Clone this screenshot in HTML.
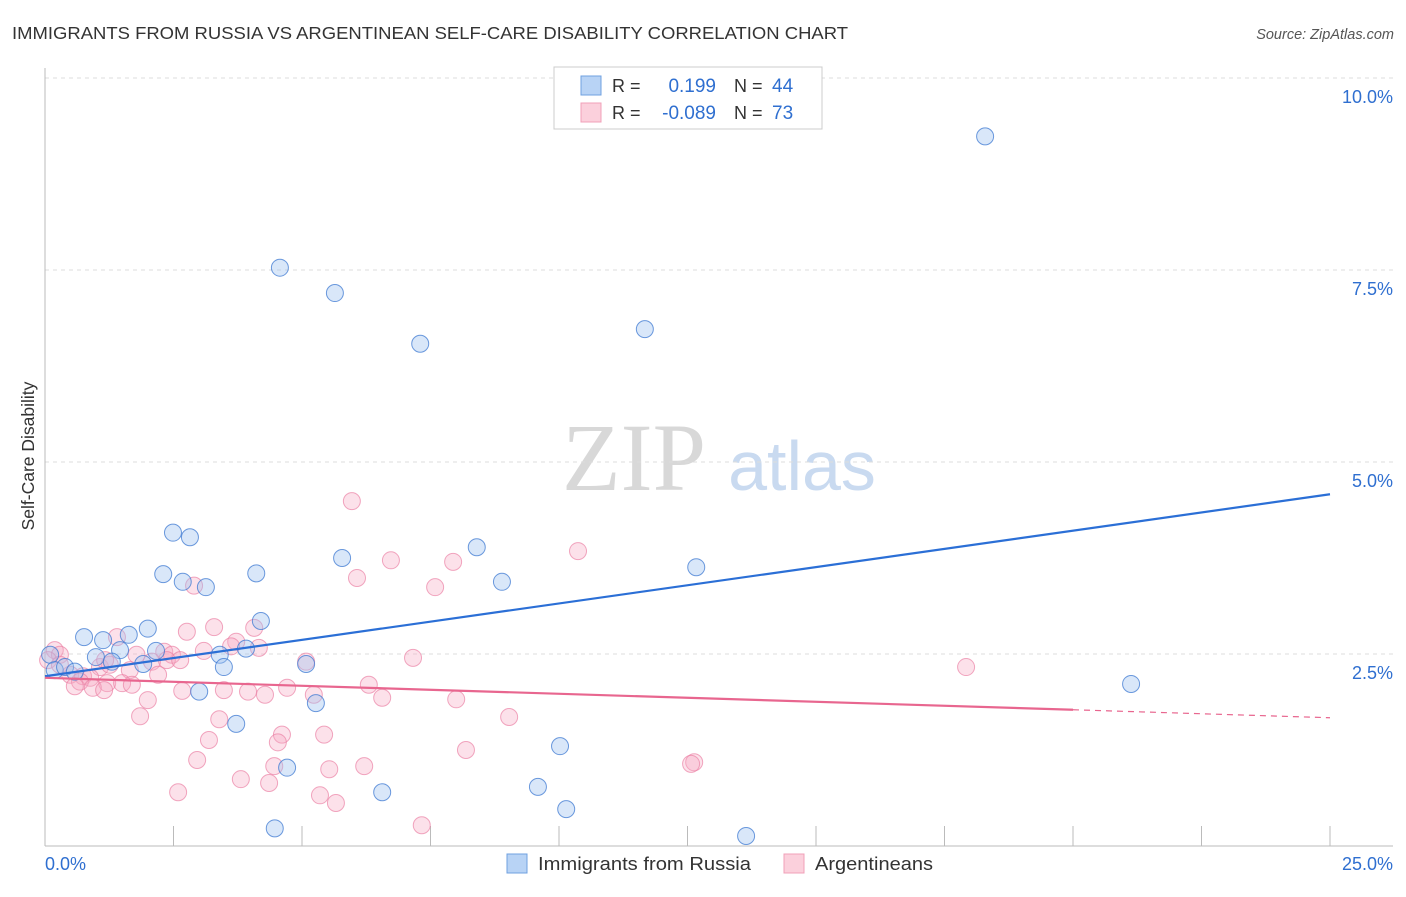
<!DOCTYPE html>
<html><head><meta charset="utf-8"><style>
body{margin:0;background:#fff;font-family:"Liberation Sans",sans-serif;}
svg text{font-family:"Liberation Sans",sans-serif;}
</style></head><body>
<svg id="chart" width="1406" height="892" viewBox="0 0 1406 892" xmlns="http://www.w3.org/2000/svg">
<text x="12" y="39" font-size="17.5" fill="#333" textLength="836" lengthAdjust="spacingAndGlyphs">IMMIGRANTS FROM RUSSIA VS ARGENTINEAN SELF-CARE DISABILITY CORRELATION CHART</text>
<text x="1394" y="39" font-size="14.5" fill="#555" font-style="italic" text-anchor="end">Source: ZipAtlas.com</text>
<g>
<text x="634" y="490" font-size="96" fill="#d8d8d8" font-family="Liberation Serif" text-anchor="middle" style="font-family:'Liberation Serif',serif">ZIP</text>
<text x="802" y="490" font-size="70" fill="#c9daf0" text-anchor="middle">atlas</text>
</g>
<g id="grid"></g>
<g id="axes"></g>
<g id="pts-pink"></g>
<g id="pts-blue"></g>
<g id="lines"></g>
<text x="34" y="456" font-size="17.5" fill="#333" text-anchor="middle" transform="rotate(-90 34 456)">Self-Care Disability</text>
<g>
<rect x="554" y="67" width="268" height="62" fill="#fff" stroke="#ccc"/>
<rect x="581" y="76" width="20" height="19" fill="#b8d3f5" stroke="#6fa0e0"/>
<rect x="581" y="103" width="20" height="19" fill="#fbd0dc" stroke="#f0a0b8"/>
<text x="612" y="92" font-size="18" fill="#333">R =</text>
<text x="716" y="92" font-size="19" fill="#2f6fd0" text-anchor="end">0.199</text>
<text x="734" y="92" font-size="18" fill="#333">N =</text>
<text x="772" y="92" font-size="19" fill="#2f6fd0">44</text>
<text x="612" y="119" font-size="18" fill="#333">R =</text>
<text x="716" y="119" font-size="19" fill="#2f6fd0" text-anchor="end">-0.089</text>
<text x="734" y="119" font-size="18" fill="#333">N =</text>
<text x="772" y="119" font-size="19" fill="#2f6fd0">73</text>
</g>
<g>
<rect x="507" y="854" width="20" height="19" fill="#b8d3f5" stroke="#6fa0e0"/>
<text x="538" y="870" font-size="18.5" fill="#333" textLength="213" lengthAdjust="spacingAndGlyphs">Immigrants from Russia</text>
<rect x="784" y="854" width="20" height="19" fill="#fbd0dc" stroke="#f0a0b8"/>
<text x="815" y="870" font-size="18.5" fill="#333" textLength="118" lengthAdjust="spacingAndGlyphs">Argentineans</text>
</g>
</svg>
<script>
const blueX=[18.29,4.57,5.64,7.30,11.67,2.49,2.82,2.30,2.68,3.13,4.11,5.78,8.40,8.89,12.67,4.20,2.00,1.63,0.76,1.13,1.46,2.16,3.91,0.99,3.40,1.30,1.91,5.08,3.48,0.10,0.19,0.39,0.58,3.00,5.27,21.13,3.72,4.71,10.02,9.59,6.56,10.14,4.47,13.64];
const blueY=[9.24,7.53,7.20,6.54,6.73,4.08,4.02,3.54,3.44,3.37,3.55,3.75,3.89,3.44,3.63,2.93,2.83,2.75,2.72,2.68,2.55,2.54,2.57,2.46,2.49,2.40,2.37,2.37,2.33,2.49,2.29,2.33,2.27,2.01,1.86,2.11,1.59,1.02,1.30,0.77,0.70,0.48,0.23,0.13];
const pinkX=[5.97,10.37,6.73,7.94,6.07,7.59,2.90,4.07,3.29,2.76,1.40,3.72,4.16,3.62,3.09,2.32,2.47,1.78,0.19,0.29,0.06,2.37,2.08,5.08,7.16,17.92,1.07,1.26,1.65,0.49,0.74,0.88,2.20,0.68,1.21,1.50,1.69,0.93,1.15,2.67,3.48,3.95,4.28,4.71,5.23,6.30,6.56,8.00,2.00,9.03,1.85,3.39,5.43,4.61,4.53,3.19,8.19,2.96,12.63,12.57,4.46,5.53,6.21,3.81,4.36,2.59,5.35,5.66,7.33,1.17,0.29,2.63,0.58];
const pinkY=[4.49,3.84,3.72,3.70,3.49,3.37,3.39,2.84,2.85,2.79,2.72,2.66,2.58,2.60,2.54,2.53,2.49,2.49,2.55,2.49,2.42,2.42,2.40,2.40,2.45,2.33,2.33,2.36,2.29,2.23,2.21,2.19,2.23,2.14,2.12,2.12,2.10,2.06,2.03,2.02,2.03,2.01,1.97,2.06,1.97,2.10,1.93,1.91,1.90,1.68,1.69,1.65,1.45,1.45,1.35,1.38,1.25,1.12,1.09,1.07,1.04,1.00,1.04,0.87,0.82,0.70,0.66,0.56,0.27,2.42,2.36,2.42,2.08];
const blueTrend=[2.21,4.58];
const pinkTrend=[2.19,1.67];
const yTicks=[2.5,5.0,7.5,10.0];
const yTickLabels=["2.5%","5.0%","7.5%","10.0%"];
const xTicks=[2.5,5,7.5,10,12.5,15,17.5,20,22.5,25];
const NS="http://www.w3.org/2000/svg";
const sx=v=>45+v*51.4;
const sy=v=>846-v*76.8;
function mk(tag,attrs,parent){const e=document.createElementNS(NS,tag);for(const k in attrs)e.setAttribute(k,attrs[k]);parent.appendChild(e);return e;}
const grid=document.getElementById('grid'),axes=document.getElementById('axes');
yTicks.forEach((t,i)=>{
 const l=mk('line',{x1:45,x2:1393,y1:sy(t),y2:sy(t),stroke:'#ddd','stroke-dasharray':'4 4'},grid);
 
 
 const tx=mk('text',{x:1393,y:sy(t)+25,'font-size':18,fill:'#2f6fd0','text-anchor':'end'},axes);
 tx.textContent=yTickLabels[i];
 
 
});
mk('line',{x1:45,x2:45,y1:68,y2:846,stroke:'#bbb'},axes);
mk('line',{x1:45,x2:1393,y1:846,y2:846,stroke:'#bbb'},axes);
xTicks.forEach(t=>{
 const l=mk('line',{x1:sx(t),x2:sx(t),y1:826,y2:846,stroke:'#bbb'},axes);
 
 
});
const x0=mk('text',{x:45,y:870,'font-size':18,fill:'#2f6fd0'},axes);x0.textContent="0.0%";


const x1=mk('text',{x:1393,y:870,'font-size':18,fill:'#2f6fd0','text-anchor':'end'},axes);x1.textContent="25.0%";


const gp=document.getElementById('pts-pink'),gb=document.getElementById('pts-blue');
pinkX.forEach((x,i)=>{
 const c=mk('circle',{cx:sx(x),cy:sy(pinkY[i]),r:8.5,fill:'rgba(246,170,195,0.35)',stroke:'rgba(235,130,165,0.7)','stroke-width':1},gp);
 
 
});
blueX.forEach((x,i)=>{
 const c=mk('circle',{cx:sx(x),cy:sy(blueY[i]),r:8.5,fill:'rgba(160,195,240,0.4)',stroke:'rgba(60,120,210,0.75)','stroke-width':1},gb);
 
 
});
const gl=document.getElementById('lines');
const bl=mk('line',{x1:sx(0),y1:sy(blueTrend[0]),x2:sx(25),y2:sy(blueTrend[1]),stroke:'#2b6fd6','stroke-width':2.2},gl);


const pm=pinkTrend[0]+(pinkTrend[1]-pinkTrend[0])*0.8;
const pl=mk('line',{x1:sx(0),y1:sy(pinkTrend[0]),x2:sx(20),y2:sy(pm),stroke:'#e8668f','stroke-width':2.2},gl);


const pd=mk('line',{x1:sx(20),y1:sy(pm),x2:sx(25),y2:sy(pinkTrend[1]),stroke:'#e8668f','stroke-width':1.2,'stroke-dasharray':'6 5'},gl);


</script>
</body></html>
